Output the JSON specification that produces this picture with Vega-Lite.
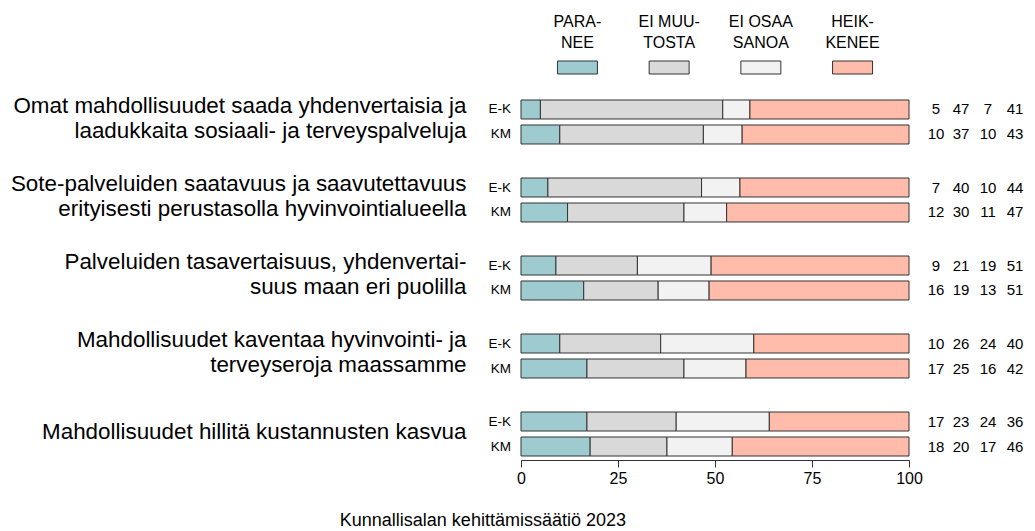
{
  "$schema": "https://vega.github.io/schema/vega-lite/v6.json",
  "padding": {"left": 10, "top": 13, "right": 3, "bottom": 2},
  "config": {"font": "Liberation Sans", "view": {"stroke": null}, "concat": {"spacing": 19}},
  "title": {"text": "Kunnallisalan kehittämissäätiö 2023", "orient": "bottom", "anchor": "middle", "fontSize": 18, "fontWeight": "normal", "color": "#000000", "offset": 26, "frame": "bounds", "dx": -34},
  "datasets": {
    "legend": [
      {"cat": "PARANEE", "label": "PARA-\nNEE", "k": 1},
      {"cat": "EI MUUTOSTA", "label": "EI MUU-\nTOSTA", "k": 2},
      {"cat": "EI OSAA SANOA", "label": "EI OSAA\nSANOA", "k": 3},
      {"cat": "HEIKKENEE", "label": "HEIK-\nKENEE", "k": 4}
    ],
    "survey": [
      {"q": "Omat mahdollisuudet saada yhdenvertaisia ja\nlaadukkaita sosiaali- ja terveyspalveluja", "g": "E-K", "PARANEE": 5, "EI MUUTOSTA": 47, "EI OSAA SANOA": 7, "HEIKKENEE": 41},
      {"q": "Omat mahdollisuudet saada yhdenvertaisia ja\nlaadukkaita sosiaali- ja terveyspalveluja", "g": "KM", "PARANEE": 10, "EI MUUTOSTA": 37, "EI OSAA SANOA": 10, "HEIKKENEE": 43},
      {"q": "Sote-palveluiden saatavuus ja saavutettavuus\nerityisesti perustasolla hyvinvointialueella", "g": "E-K", "PARANEE": 7, "EI MUUTOSTA": 40, "EI OSAA SANOA": 10, "HEIKKENEE": 44},
      {"q": "Sote-palveluiden saatavuus ja saavutettavuus\nerityisesti perustasolla hyvinvointialueella", "g": "KM", "PARANEE": 12, "EI MUUTOSTA": 30, "EI OSAA SANOA": 11, "HEIKKENEE": 47},
      {"q": "Palveluiden tasavertaisuus, yhdenvertai-\nsuus maan eri puolilla", "g": "E-K", "PARANEE": 9, "EI MUUTOSTA": 21, "EI OSAA SANOA": 19, "HEIKKENEE": 51},
      {"q": "Palveluiden tasavertaisuus, yhdenvertai-\nsuus maan eri puolilla", "g": "KM", "PARANEE": 16, "EI MUUTOSTA": 19, "EI OSAA SANOA": 13, "HEIKKENEE": 51},
      {"q": "Mahdollisuudet kaventaa hyvinvointi- ja\nterveyseroja maassamme", "g": "E-K", "PARANEE": 10, "EI MUUTOSTA": 26, "EI OSAA SANOA": 24, "HEIKKENEE": 40},
      {"q": "Mahdollisuudet kaventaa hyvinvointi- ja\nterveyseroja maassamme", "g": "KM", "PARANEE": 17, "EI MUUTOSTA": 25, "EI OSAA SANOA": 16, "HEIKKENEE": 42},
      {"q": "Mahdollisuudet hillitä kustannusten kasvua", "g": "E-K", "PARANEE": 17, "EI MUUTOSTA": 23, "EI OSAA SANOA": 24, "HEIKKENEE": 36},
      {"q": "Mahdollisuudet hillitä kustannusten kasvua", "g": "KM", "PARANEE": 18, "EI MUUTOSTA": 20, "EI OSAA SANOA": 17, "HEIKKENEE": 46}
    ]
  },
  "vconcat": [
    {
      "data": {"name": "legend"},
      "width": 388,
      "height": 13,
      "encoding": {
        "x": {"field": "cat", "type": "nominal", "sort": null, "scale": {"domain": ["PARANEE", "EI MUUTOSTA", "EI OSAA SANOA", "HEIKKENEE"], "paddingInner": 0.564, "paddingOuter": 0.3975}, "axis": null}
      },
      "layer": [
        {
          "mark": {"type": "bar", "stroke": "#333333", "strokeWidth": 1},
          "encoding": {
            "color": {"field": "cat", "type": "nominal", "scale": {"domain": ["PARANEE", "EI MUUTOSTA", "EI OSAA SANOA", "HEIKKENEE"], "range": ["#9ecbd0", "#d9d9d9", "#f2f2f2", "#ffbcaa"]}, "legend": null}
          }
        },
        {
          "mark": {"type": "text", "lineBreak": "\n", "baseline": "bottom", "fontSize": 16, "lineHeight": 21.5, "dy": -38, "color": "#000000"},
          "encoding": {"text": {"field": "label"}}
        }
      ]
    },
    {
      "data": {"name": "survey"},
      "transform": [
        {"fold": ["PARANEE", "EI MUUTOSTA", "EI OSAA SANOA", "HEIKKENEE"], "as": ["cat", "v"]},
        {"lookup": "cat", "from": {"data": {"name": "legend"}, "key": "cat", "fields": ["k"]}}
      ],
      "width": 388,
      "height": 362,
      "encoding": {
        "y": {"field": "q", "type": "nominal", "sort": null, "scale": {"paddingInner": 0.359, "paddingOuter": 0},
          "axis": {"title": null, "domain": false, "ticks": false, "labelPadding": 55, "labelFontSize": 22.4, "labelColor": "#000000", "labelLimit": 700, "labelExpr": "split(datum.label, '\\n')", "labelLineHeight": 25,
            "labelOffset": {"condition": {"test": "indexof(datum.value, '\\n') >= 0", "value": -16}, "value": -2}}},
        "yOffset": {"field": "g", "type": "nominal", "sort": null, "scale": {"paddingInner": 0.24, "paddingOuter": 0.12}}
      },
      "layer": [
        {
          "mark": {"type": "bar", "stroke": "#333333", "strokeWidth": 1},
          "encoding": {
            "x": {"field": "v", "type": "quantitative", "stack": "normalize", "scale": {"domain": [0, 1]},
              "axis": {"title": null, "values": [0, 0.25, 0.5, 0.75, 1], "labelExpr": "format(datum.value * 100, 'd')", "grid": false, "domainColor": "#333333", "tickColor": "#333333", "tickSize": 7, "labelFontSize": 16, "labelColor": "#000000", "labelPadding": 3, "offset": 1, "labelFlush": false}},
            "color": {"field": "cat", "type": "nominal", "scale": {"domain": ["PARANEE", "EI MUUTOSTA", "EI OSAA SANOA", "HEIKKENEE"], "range": ["#9ecbd0", "#d9d9d9", "#f2f2f2", "#ffbcaa"]}, "legend": null},
            "order": {"field": "k", "type": "quantitative", "sort": "ascending"}
          }
        },
        {
          "transform": [{"filter": "datum.cat == 'PARANEE'"}],
          "mark": {"type": "text", "align": "right", "dx": -10, "fontSize": 13.5, "color": "#000000"},
          "encoding": {"x": {"datum": 0, "type": "quantitative"}, "text": {"field": "g"}}
        },
        {
          "transform": [{"filter": "datum.cat == 'PARANEE'"}],
          "mark": {"type": "text", "align": "center", "dx": 27, "fontSize": 15, "color": "#000000"},
          "encoding": {"x": {"datum": 1, "type": "quantitative"}, "text": {"field": "v"}}
        },
        {
          "transform": [{"filter": "datum.cat == 'EI MUUTOSTA'"}],
          "mark": {"type": "text", "align": "center", "dx": 52, "fontSize": 15, "color": "#000000"},
          "encoding": {"x": {"datum": 1, "type": "quantitative"}, "text": {"field": "v"}}
        },
        {
          "transform": [{"filter": "datum.cat == 'EI OSAA SANOA'"}],
          "mark": {"type": "text", "align": "center", "dx": 79, "fontSize": 15, "color": "#000000"},
          "encoding": {"x": {"datum": 1, "type": "quantitative"}, "text": {"field": "v"}}
        },
        {
          "transform": [{"filter": "datum.cat == 'HEIKKENEE'"}],
          "mark": {"type": "text", "align": "center", "dx": 106, "fontSize": 15, "color": "#000000"},
          "encoding": {"x": {"datum": 1, "type": "quantitative"}, "text": {"field": "v"}}
        }
      ]
    }
  ]
}
